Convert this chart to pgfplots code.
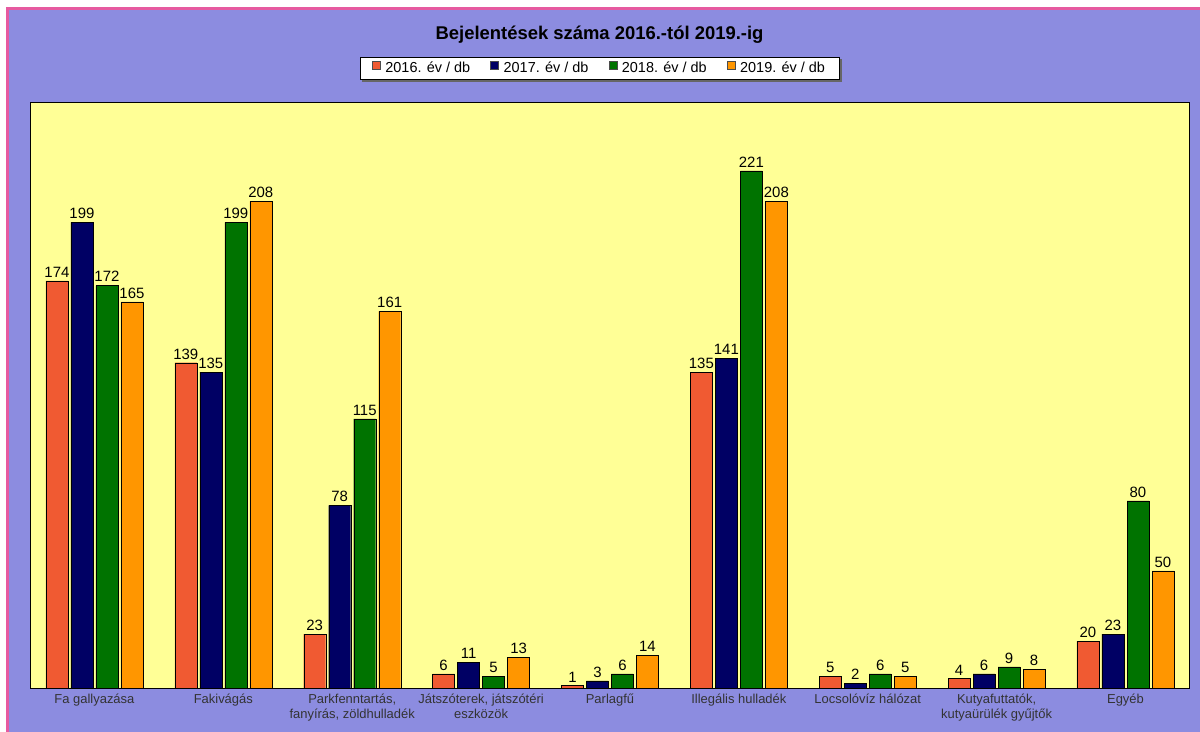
\documentclass[border=0pt]{standalone}
\usepackage{pgfplots}
\pgfplotsset{compat=1.18}
\usepackage{fontspec}
\setmainfont{Liberation Sans}
\definecolor{bgpurple}{RGB}{140,140,224}
\definecolor{plotyellow}{RGB}{255,255,150}
\definecolor{c16}{RGB}{240,90,50}
\definecolor{c17}{RGB}{0,0,100}
\definecolor{c18}{RGB}{0,115,0}
\definecolor{c19}{RGB}{255,150,0}
\definecolor{pinkframe}{RGB}{230,90,160}
\begin{document}
\begin{tikzpicture}
\fill[white] (0,0) rectangle (1200bp,732bp);
\fill[bgpurple] (6bp,0) rectangle (1200bp,725bp);
\fill[pinkframe] (6bp,0) rectangle (9bp,725bp);
\fill[pinkframe] (6bp,722bp) rectangle (1200bp,725bp);
\begin{axis}[
  at={(30bp,44bp)}, anchor=south west,
  scale only axis, width=1160bp, height=585bp,
  xmin=-0.5, xmax=8.5, ymin=0, ymax=250,
  axis background/.style={fill=plotyellow},
  axis line style={black, line width=1bp},
  ybar=3bp, bar width=22bp,
  xtick={0,...,8},
  xticklabels={Fa gallyazása, Fakivágás, {Parkfenntartás,\\fanyírás, zöldhulladék}, {Játszóterek, játszótéri\\eszközök}, Parlagfű, Illegális hulladék, Locsolóvíz hálózat, {Kutyafuttatók,\\kutyaürülék gyűjtők}, Egyéb},
  xticklabel style={font=\fontsize{13}{15}\selectfont, text=black!80, align=center, yshift=-2bp},
  ytick=\empty, major tick length=0,
  /pgf/number format/assume math mode=true,
  nodes near coords,
  every node near coord/.append style={font=\fontsize{15}{18}\selectfont, text=black},
  title={Bejelentések száma 2016.-tól 2019.-ig},
  title style={font=\bfseries\fontsize{18.5}{22}\selectfont, at={(0.491,1.106)}, anchor=center},
  legend style={name=leg, at={(0.491,1.0598)}, anchor=center, legend columns=4, draw=black, fill=white,
    font=\fontsize{14.5}{17}\selectfont, inner xsep=12bp, inner ysep=3bp,
    /tikz/every odd column/.append style={column sep=3bp},
    /tikz/every even column/.append style={column sep=18bp}},
  legend image code/.code={\draw[#1, draw=black!70] (0bp,-1bp) rectangle (8bp,7bp);},
]
\addplot[fill=c16, draw=black] coordinates {(0,174) (1,139) (2,23) (3,6) (4,1) (5,135) (6,5) (7,4) (8,20)};
\addplot[fill=c17, draw=black] coordinates {(0,199) (1,135) (2,78) (3,11) (4,3) (5,141) (6,2) (7,6) (8,23)};
\addplot[fill=c18, draw=black] coordinates {(0,172) (1,199) (2,115) (3,5) (4,6) (5,221) (6,6) (7,9) (8,80)};
\addplot[fill=c19, draw=black] coordinates {(0,165) (1,208) (2,161) (3,13) (4,14) (5,208) (6,5) (7,8) (8,50)};
\legend{2016. év / db, 2017. év / db, 2018. év / db, 2019. év / db}
\end{axis}
\fill[black!60] ([shift={(2bp,-2.5bp)}]leg.south west) rectangle ([shift={(2.5bp,-0.3bp)}]leg.south east);
\fill[black!60] ([shift={(0.3bp,-2.5bp)}]leg.south east) rectangle ([shift={(2.5bp,-2bp)}]leg.north east);
\end{tikzpicture}
\end{document}
